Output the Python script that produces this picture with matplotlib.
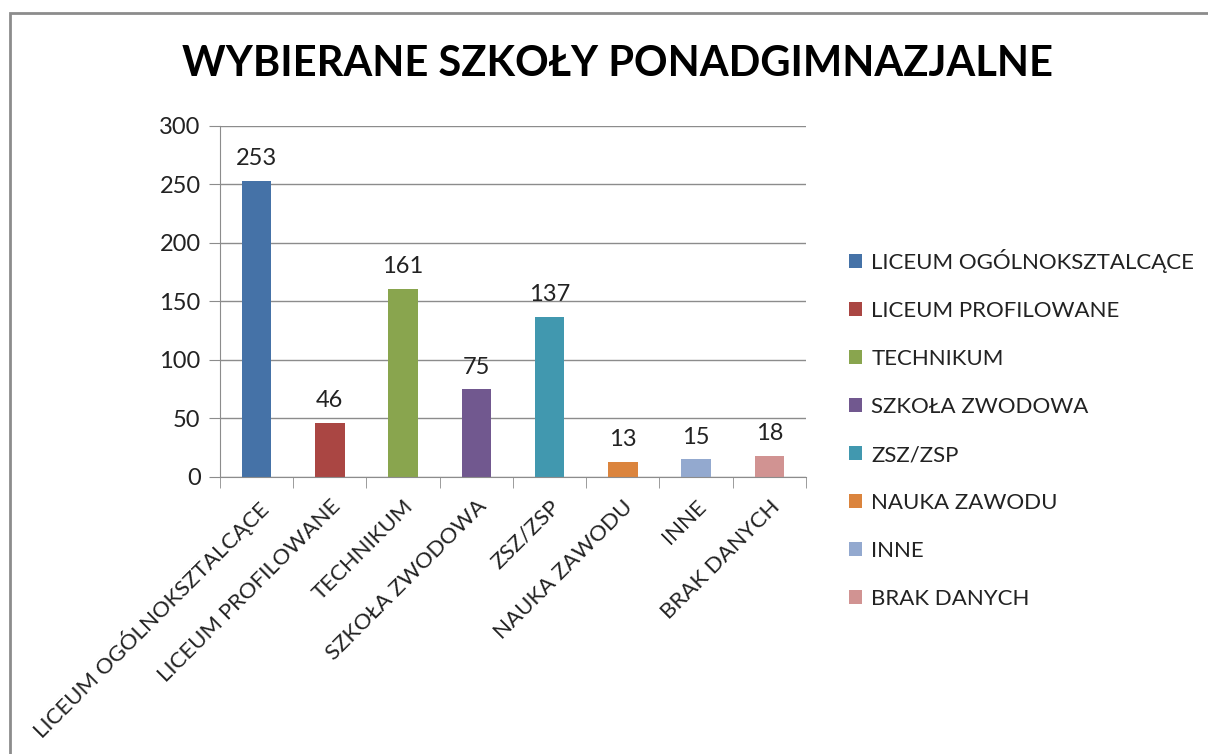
import matplotlib.pyplot as plt
from matplotlib.patches import Patch, Rectangle
import numpy as np

categories = ["LICEUM OGÓLNOKSZTALCĄCE", "LICEUM PROFILOWANE", "TECHNIKUM",
              "SZKOŁA ZWODOWA", "ZSZ/ZSP", "NAUKA ZAWODU", "INNE", "BRAK DANYCH"]
values = [253, 46, 161, 75, 137, 13, 15, 18]
colors = ["#4572A7", "#AA4643", "#89A54E", "#71588F",
          "#4198AF", "#DB843D", "#93A9CF", "#D19392"]

plt.rcParams['font.family'] = ['Lato', 'DejaVu Sans']

fig = plt.figure(figsize=(12.08, 7.54), dpi=100)
fig.patches.append(Rectangle((10 / 1208, -0.1), 1.2, 1.1 - 13 / 754,
                             transform=fig.transFigure, fill=False,
                             edgecolor='#8c8c8c', linewidth=2))

ax = fig.add_axes([220 / 1208, 1 - 477 / 754, 586 / 1208, 351 / 754])
x = np.arange(len(categories))
bars = ax.bar(x, values, width=0.4, color=colors)

# value labels above bars
for xi, v in zip(x, values):
    ax.text(xi, v + 10, str(v), ha='center', va='bottom', fontsize=17, color='#222222')

ax.set_ylim(0, 300)
ax.set_xlim(-0.5, len(categories) - 0.5)
ax.set_yticks(range(0, 301, 50))
ax.yaxis.grid(True, color='#8c8c8c', linewidth=1)
ax.set_axisbelow(True)
ax.tick_params(axis='y', labelsize=17, length=8, color='#8c8c8c', labelcolor='#222222', pad=6)

# category labels, ticks on category boundaries
ax.set_xticks(x)
ax.set_xticklabels(categories, rotation=45, ha='right', rotation_mode='anchor',
                   fontsize=16, color='#222222')
ax.tick_params(axis='x', which='major', length=0, pad=14)
ax.set_xticks(np.arange(-0.5, len(categories), 1), minor=True)
ax.tick_params(axis='x', which='minor', length=8, color='#8c8c8c')

for s in ['top', 'right']:
    ax.spines[s].set_visible(False)
for s in ['left', 'bottom']:
    ax.spines[s].set_color('#8c8c8c')

fig.text(618 / 1208, 1 - 64 / 754, "WYBIERANE SZKOŁY PONADGIMNAZJALNE", ha='center', va='center',
         fontsize=30, fontweight='bold', color='black')

handles = [Patch(facecolor=c, label=l) for c, l in zip(colors, categories)]
fig.legend(handles=handles, loc='upper left', bbox_to_anchor=(838 / 1208, 1 - 238 / 754),
           frameon=False, fontsize=16, labelspacing=1.26, handlelength=0.6,
           handleheight=0.6, handletextpad=0.4, borderpad=0, labelcolor='#222222')

fig.savefig("out.png", dpi=100)
